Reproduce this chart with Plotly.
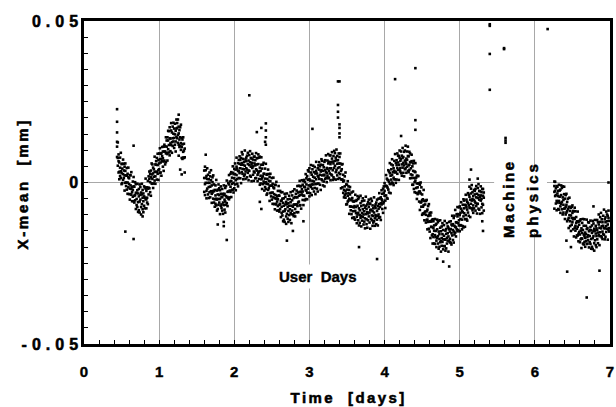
import plotly.graph_objects as go

# X-mean, in micrometres (1e-3 mm), grouped by time [days]
seg1_cols = [
    (0.44, [11.1, 12.6, 7.9, 22.7, 18.8, 15.5]), (0.45, [5.2, 7.6, 12.4]), (0.46, [6.6, 3.1, 8.7]),
    (0.47, [3.3, 6.2, 1.0]), (0.48, [7.7, 2.0, 4.6]), (0.49, [3.5, 9.2, 1.4]), (0.50, [5.7, 2.9, -0.5]),
    (0.51, [-0.2, 5.8, 4.3]), (0.52, [7.1, 2.6, 0.8]), (0.53, [1.4, 3.7, 5.8]), (0.54, [4.9, -2.5, 2.2]),
    (0.55, [-0.1, 3.6, 5.9, -15.2]), (0.56, [2.2, -1.1, 0.0]), (0.57, [4.5, 2.1, -2.2]), (0.58, [-3.5, 0.0, 2.7]),
    (0.59, [1.6, 4.6, -1.5]), (0.60, [-0.5, -3.6, 1.3]), (0.61, [2.3, -1.9, -5.3]), (0.62, [-3.6, 2.2, -0.9]),
    (0.63, [3.2, -3.8, -2.0]), (0.64, [-3.0, -1.4, -5.8]), (0.65, [-2.3, 0.3, -4.4]),
    (0.66, [-5.8, 1.7, -1.2, 11.4, -17.5]), (0.67, [-1.3, -4.1, -6.2]), (0.68, [-5.5, 0.1, -3.9]),
    (0.69, [-0.5, -8.2, -3.2]), (0.70, [-5.1, -3.2, -7.0]), (0.71, [-2.4, -7.6, -0.4]), (0.72, [-9.1, -6.1, -3.4]),
    (0.73, [-2.0, -8.6, -4.3]), (0.74, [-5.9, -0.6, -9.3]), (0.75, [-3.8, -5.3, -1.4]), (0.76, [-7.6, -3.1, -9.9]),
    (0.77, [-0.4, -6.7, -3.7]), (0.78, [-8.3, -4.7, -2.3, -10.5]), (0.79, [-3.4, -9.2, -5.8]),
    (0.80, [-1.2, -7.2, -4.3]), (0.81, [-4.7, -1.5, -8.0]), (0.82, [1.2, -5.2, -1.9]), (0.83, [-8.0, -2.6, -5.2]),
    (0.84, [-4.7, -6.2, -1.5]), (0.85, [0.5, -1.9, -6.7]), (0.86, [-1.6, 1.9, -3.7]), (0.87, [1.1, -1.8, 3.4]),
    (0.88, [-3.0, 2.7, 0.1]), (0.89, [1.6, -4.1, 3.7]), (0.90, [-0.3, 2.5, 5.9]), (0.91, [5.6, -0.4, 1.1]),
    (0.92, [-1.7, 2.8, 4.6]), (0.93, [4.1, 1.8, -0.3]), (0.94, [0.6, 8.0, 3.3]), (0.95, [5.6, 1.9, -0.4]),
    (0.96, [3.3, 6.6, 5.5]), (0.97, [0.9, 3.3, 7.6]), (0.98, [8.9, 5.4, 2.7]), (0.99, [3.8, 0.8, 6.9]),
    (1.00, [5.9, 9.0, 4.1]), (1.01, [3.0, 7.2, 10.6]), (1.02, [8.9, 3.1, 6.2]), (1.03, [2.1, 9.1, 7.3]),
    (1.04, [8.2, 6.6, 11.0]), (1.05, [7.5, 4.9, 9.6]), (1.06, [11.1, 3.6, 6.5]), (1.07, [6.8, 9.6, 11.7]),
    (1.08, [11.2, 5.6, 9.6]), (1.09, [6.3, 14.0, 9.0]), (1.10, [11.1, 9.2, 13.0]), (1.11, [8.8, 14.0, 6.8]),
    (1.12, [16.0, 13.0, 10.3]), (1.13, [9.3, 15.9, 11.6]), (1.14, [13.7, 8.4, 17.1]), (1.15, [12.1, 13.6, 9.7]),
    (1.16, [16.1, 11.6, 18.4]), (1.17, [9.2, 15.5, 12.5]), (1.18, [17.3, 13.7, 11.3]), (1.19, [12.7, 18.5, 15.1]),
    (1.20, [10.7, 16.7, 13.8]), (1.21, [14.9, 11.7, 18.2]), (1.22, [9.6, 16.0, 12.7]), (1.23, [19.5, 14.1, 16.7]),
    (1.24, [16.9, 18.4, 13.7]), (1.25, [12.3, 14.7, 19.5]), (1.26, [15.2, 11.7, 17.3, 21.0, 8.3]),
    (1.27, [13.3, 16.2, 11.0]), (1.28, [17.1, 11.4, 14.0, 4.0]), (1.29, [12.2, 17.9, 10.1]),
    (1.30, [13.8, 11.0, 7.6, 2.5]), (1.31, [7.3, 13.3, 11.8]), (1.32, [14.0, 9.5, 7.7]), (1.33, [7.6, 9.9, 12.0]),
    (1.34, [10.5, 3.1, 7.8]),
]

seg2_cols = [
    (1.60, [3.7, -2.9, 1.4]), (1.61, [-0.5, 4.9, -3.9]), (1.62, [1.4, -0.1, 3.8, 8.6]), (1.63, [-2.6, 2.0, -4.9]),
    (1.64, [4.4, -1.9, 1.1]), (1.65, [-3.7, -0.1, 2.4]), (1.66, [1.0, -4.8, -1.4]), (1.67, [3.1, -3.0, -0.1]),
    (1.68, [-1.3, 1.9, -4.6]), (1.69, [3.8, -2.7, 0.7]), (1.70, [-6.3, -0.9, -3.5]), (1.71, [0.1, 1.6, -3.1]),
    (1.72, [-5.0, -2.6, 2.2]), (1.73, [-2.7, -6.2, -0.6]), (1.74, [-5.2, -2.3, -7.5]), (1.75, [-0.9, -6.6, -4.0]),
    (1.76, [-5.0, 0.8, -7.1]), (1.77, [-2.5, -5.3, -8.7]), (1.78, [-8.2, -2.2, -3.7, -13.0]), (1.79, [-0.6, -5.1, -6.9]),
    (1.80, [-6.2, -3.9, -1.8]), (1.81, [-2.4, -9.8, -5.1]), (1.82, [-7.2, -3.5, -1.2]), (1.83, [-4.6, -7.9, -6.8]),
    (1.84, [-2.0, -4.4, -8.7]), (1.85, [-9.7, -6.2, -3.5]), (1.86, [-3.9, -0.9, -7.0, -12.2, -13.5]),
    (1.87, [-5.3, -8.4, -3.5]), (1.88, [-1.7, -5.9, -9.3]), (1.89, [-6.9, -1.1, -4.2]), (1.90, [0.6, -6.4, -4.6, -17.8]),
    (1.91, [-4.5, -2.9, -7.3]), (1.92, [-2.8, -0.2, -4.9]), (1.93, [-5.2, 2.3, -0.6]), (1.94, [0.3, -2.5, -4.6]),
    (1.95, [-2.9, 2.7, -1.3]), (1.96, [3.2, -4.5, 0.5]), (1.97, [-0.4, 1.5, -2.3]), (1.98, [3.0, -2.2, 5.0]),
    (1.99, [-3.1, -0.1, 2.6]), (2.00, [-1.8, 4.2, 1.3]), (2.01, [2.6, -0.6, 5.9]), (2.02, [-2.4, 4.0, 0.7]),
    (2.03, [7.7, 2.3, 4.9]), (2.04, [1.1, -0.4, 4.3]), (2.05, [6.0, 3.6, -1.2]), (2.06, [3.5, 7.0, 1.4]),
    (2.07, [5.8, 2.9, 8.1]), (2.08, [1.3, 7.0, 4.4]), (2.09, [5.5, -0.2, 7.6]), (2.10, [3.2, 6.0, 9.4]),
    (2.11, [8.7, 2.7, 4.2]), (2.12, [1.0, 5.5, 7.3]), (2.13, [6.4, 4.1, 2.0]), (2.14, [2.5, 9.9, 5.2]),
    (2.15, [7.1, 3.4, 1.1]), (2.16, [4.4, 7.7, 6.6]), (2.17, [1.6, 4.0, 8.3]), (2.18, [9.2, 5.7, 3.0]),
    (2.19, [3.7, 0.7, 6.8]), (2.20, [5.4, 8.5, 3.6, 27.0]), (2.21, [2.1, 6.3, 9.7]), (2.22, [7.6, 1.8, 4.9]),
    (2.23, [0.4, 7.4, 5.6]), (2.24, [6.1, 4.5, 8.9]), (2.25, [5.0, 2.4, 7.1]), (2.26, [8.0, 0.5, 3.4]),
    (2.27, [3.1, 5.9, 8.0]), (2.28, [6.9, 1.3, 5.3]), (2.29, [1.4, 9.1, 4.1]), (2.30, [5.6, 3.7, 7.5, 15.6]),
    (2.31, [2.4, 7.6, 0.4]), (2.32, [8.7, 5.7, 3.0]), (2.33, [1.1, 7.7, 3.4]), (2.34, [4.6, -0.7, 8.0, -6.0]),
    (2.35, [2.1, 3.6, -0.3]), (2.36, [5.5, 1.0, 7.8, 16.9, -8.2]), (2.37, [-2.0, 4.3, 1.3]), (2.38, [5.5, 1.9, -0.5]),
    (2.39, [0.3, 6.1, 2.7]), (2.40, [-0.2, 2.7, -2.5]), (2.41, [4.3, -1.4, 1.2, 12.6]),
    (2.42, [0.1, 5.8, -2.0, 18.3, 16.1, 14.0, 11.7]), (2.43, [2.4, -0.4, -3.8]), (2.44, [-3.4, 2.6, 1.1]),
    (2.45, [4.0, -0.5, -2.3]), (2.46, [-1.8, 0.5, 2.6]), (2.47, [1.7, -5.7, -1.0]), (2.48, [-3.3, 0.4, 2.7]),
    (2.49, [-1.0, -4.3, -3.2]), (2.50, [1.4, -1.0, -5.3]), (2.51, [-6.6, -3.1, -0.4]), (2.52, [-1.5, 1.5, -4.6]),
    (2.53, [-3.6, -6.7, -1.8]), (2.54, [-0.7, -4.9, -8.3]), (2.55, [-6.6, -0.8, -3.9]), (2.56, [0.2, -6.8, -5.0]),
    (2.57, [-5.9, -4.3, -8.7]), (2.58, [-5.2, -2.6, -7.3]), (2.59, [-8.6, -1.1, -4.0]), (2.60, [-4.1, -6.9, -9.0]),
    (2.61, [-8.2, -2.6, -6.6]), (2.62, [-3.0, -10.7, -5.7]), (2.63, [-7.5, -5.6, -9.4]), (2.64, [-5.0, -10.2, -3.0]),
    (2.65, [-12.0, -9.0, -6.3]), (2.66, [-4.9, -11.5, -7.2]), (2.67, [-8.8, -3.5, -12.2]), (2.68, [-6.8, -8.3, -4.4]),
    (2.69, [-10.5, -6.0, -12.8]), (2.70, [-3.4, -9.7, -6.7, -18.0]), (2.71, [-11.2, -7.6, -5.2]),
    (2.72, [-6.4, -12.2, -8.8]), (2.73, [-4.1, -10.1, -7.2]), (2.74, [-8.3, -5.1, -11.6]), (2.75, [-3.0, -9.4, -6.1]),
    (2.76, [-12.6, -7.2, -9.8]), (2.77, [-5.5, -4.0, -8.7]), (2.78, [-9.9, -7.5, -2.7, -15.0]),
    (2.79, [-6.9, -10.4, -4.8]), (2.80, [-9.5, -2.1, -6.8]), (2.81, [-4.5, -8.2, -10.5]), (2.82, [-6.8, -3.5, -4.6]),
    (2.83, [-9.2, -6.8, -2.5]), (2.84, [-1.1, -4.6, -7.3]), (2.85, [-6.2, -9.2, -3.1]), (2.86, [-4.1, -1.0, -5.9]),
    (2.87, [-7.1, -2.9, 0.5]), (2.88, [-1.2, -7.0, -3.9]), (2.89, [-8.1, -1.1, -2.9]), (2.90, [-2.1, -3.7, 0.7]),
    (2.91, [-2.8, -5.4, -0.7]), (2.92, [0.5, -7.0, -4.1, -12.0]), (2.93, [-4.1, -1.3, 0.8]), (2.94, [0.1, -5.5, -1.5]),
    (2.95, [-5.1, 2.6, -2.4]), (2.96, [-0.6, -2.5, 1.3]), (2.97, [-3.2, 2.0, -5.2]), (2.98, [3.8, 0.8, -1.9]),
    (2.99, [-3.2, 3.4, -0.9]), (3.00, [1.0, -4.3, 4.4]), (3.01, [-0.9, 0.6, -3.3]), (3.02, [3.1, -1.4, 5.4]),
    (3.03, [-3.9, 2.4, -0.6]), (3.04, [4.1, 0.5, -1.9, 16.6]), (3.05, [-0.6, 5.2, 1.8]), (3.06, [-2.8, 3.2, 0.3]),
    (3.07, [1.5, -1.7, 4.8]), (3.08, [-3.6, 2.8, -0.5]), (3.09, [6.4, 1.0, 3.6]), (3.10, [-0.4, -1.9, 2.8]),
    (3.11, [4.4, 2.0, -2.8]), (3.12, [1.8, 5.3, -0.3]), (3.13, [4.0, 1.1, 6.3]), (3.14, [-0.7, 5.0, 2.4]),
    (3.15, [3.4, -2.3, 5.5]), (3.16, [1.0, 3.8, 7.2]), (3.17, [6.7, 0.7, 2.2]), (3.18, [-0.9, 3.6, 5.4]),
    (3.19, [4.7, 2.4, 0.3]), (3.20, [6.4, 2.2, -1.2]), (3.21, [1.1, 6.9, 3.8]), (3.22, [8.4, 1.4, 3.2]),
    (3.23, [2.9, 4.5, 0.1]), (3.24, [4.2, 6.8, 2.1]), (3.25, [1.3, 8.8, 5.9]), (3.26, [6.4, 3.6, 1.5]),
    (3.27, [2.8, 8.4, 4.4]), (3.28, [8.4, 0.7, 5.7]), (3.29, [4.4, 6.3, 2.5]), (3.30, [7.4, 2.2, 9.4]),
    (3.31, [0.8, 3.8, 6.5]), (3.32, [8.2, 1.6, 5.9]), (3.33, [4.5, 9.8, 1.1]), (3.34, [6.7, 5.2, 9.1]),
    (3.35, [3.2, 7.7, 0.9]), (3.36, [10.2, 3.9, 6.9]), (3.37, [2.2, 5.8, 8.2]),
    (3.38, [6.9, 1.1, 4.5, 31.3, 24.0, 21.9, 20.1]), (3.39, [9.0, 3.0, 5.9]),
    (3.40, [4.7, 7.9, 1.4, 31.3, 18.0, 16.9, 15.2, 14.0]), (3.41, [9.0, 2.6, 5.9]), (3.42, [-1.8, 3.6, 1.0]),
    (3.43, [4.1, 5.6, 0.9]), (3.44, [-1.5, 0.9, 5.7]), (3.45, [0.3, -3.2, 2.4]), (3.46, [-2.3, 0.6, -4.6]),
    (3.47, [1.9, -3.8, -1.2]), (3.48, [-2.6, 3.1, -4.7]), (3.49, [-0.6, -3.4, -6.8]), (3.50, [-6.7, -0.7, -2.2]),
    (3.51, [0.4, -4.1, -5.9]), (3.52, [-5.6, -3.3, -1.2]), (3.53, [-2.3, -9.7, -5.0]), (3.54, [-7.4, -3.7, -1.4]),
    (3.55, [-5.3, -8.6, -7.5]), (3.56, [-3.1, -5.5, -9.8]), (3.57, [-11.0, -7.5, -4.8]), (3.58, [-5.8, -2.8, -8.9]),
    (3.59, [-7.7, -10.8, -5.9]), (3.60, [-5.7, -11.3, -7.3]), (3.61, [-11.5, -3.8, -8.8]), (3.62, [-7.6, -9.5, -5.7]),
    (3.63, [-10.6, -5.4, -12.6]), (3.64, [-4.2, -7.2, -9.9]), (3.65, [-11.7, -5.1, -9.4]),
    (3.66, [-8.0, -13.3, -4.6, -20.0]), (3.67, [-10.1, -8.6, -12.5]), (3.68, [-6.4, -10.9, -4.1]),
    (3.69, [-13.6, -7.3, -10.3]), (3.70, [-5.8, -9.4, -11.8]), (3.71, [-10.7, -4.9, -8.3]), (3.72, [-13.0, -7.0, -9.9]),
    (3.73, [-8.9, -12.1, -5.6]), (3.74, [-14.2, -7.8, -11.1]), (3.75, [-4.4, -9.8, -7.2]), (3.76, [-11.4, -12.9, -8.2]),
    (3.77, [-6.8, -9.2, -14.0]), (3.78, [-9.6, -6.1, -11.7]), (3.79, [-7.6, -10.5, -5.3]), (3.80, [-12.4, -6.7, -9.3]),
    (3.81, [-8.6, -14.3, -6.5]), (3.82, [-11.2, -8.4, -5.0]), (3.83, [-5.7, -11.7, -10.2]), (3.84, [-13.4, -8.9, -7.1]),
    (3.85, [-8.0, -10.3, -12.4]), (3.86, [-12.0, -4.6, -9.3]), (3.87, [-7.4, -11.1, -13.4]), (3.88, [-10.1, -6.8, -7.9]),
    (3.89, [-12.9, -10.5, -6.2]), (3.90, [-5.3, -8.8, -11.5, -23.7]), (3.91, [-10.3, -13.3, -7.2]),
    (3.92, [-8.1, -5.0, -9.9]), (3.93, [-10.9, -6.7, -3.3]), (3.94, [-4.9, -10.7, -7.6]), (3.95, [-11.6, -4.6, -6.4]),
    (3.96, [-5.2, -6.8, -2.4]), (3.97, [-5.6, -8.2, -3.5]), (3.98, [-1.9, -9.4, -6.5]), (3.99, [-6.1, -3.3, -1.2]),
    (4.00, [-2.6, -4.1, -0.2]), (4.01, [-5.6, -1.1, -7.9]), (4.02, [2.3, -4.0, -1.0]), (4.03, [-4.8, -1.2, 1.2]),
    (4.04, [0.8, -5.0, -1.6]), (4.05, [3.8, -2.2, 0.7]), (4.06, [0.2, 3.4, -3.1]), (4.07, [6.0, -0.4, 2.9]),
    (4.08, [-3.3, 2.1, -0.5]), (4.09, [4.1, 5.6, 0.9]), (4.10, [0.0, 2.4, 7.2]), (4.11, [3.2, -0.3, 5.3]),
    (4.12, [1.5, 4.4, -0.8]), (4.13, [6.7, 1.0, 3.6]), (4.14, [3.1, 8.8, 1.0, 32.0]), (4.15, [6.1, 3.3, -0.1]),
    (4.16, [0.9, 6.9, 5.4]), (4.17, [9.0, 4.5, 2.7]), (4.18, [3.9, 6.2, 8.3]), (4.19, [8.2, 0.8, 5.5]),
    (4.20, [3.9, 7.6, 9.9]), (4.21, [6.7, 3.4, 4.5]), (4.22, [9.6, 7.2, 2.9, 14.4]), (4.23, [2.1, 5.6, 8.3]),
    (4.24, [7.7, 10.7, 4.6]), (4.25, [6.1, 3.0, 7.9]), (4.26, [9.5, 5.3, 1.9]), (4.27, [4.1, 9.9, 6.8]),
    (4.28, [11.4, 4.4, 6.2]), (4.29, [5.8, 7.4, 3.0]), (4.30, [7.0, 9.6, 4.9]), (4.31, [3.6, 11.1, 8.2]),
    (4.32, [8.1, 5.3, 3.2]), (4.33, [3.9, 9.5, 5.5]), (4.34, [9.0, 1.3, 6.3]), (4.35, [4.4, 6.3, 2.5]),
    (4.36, [6.6, 1.4, 8.6]), (4.37, [-0.7, 2.3, 5.0]), (4.38, [5.9, -0.7, 3.6]), (4.39, [1.4, 6.7, -2.0]),
    (4.40, [-3.0, 3.4, 0.1]), (4.41, [6.0, 0.6, 3.2, 35.4, 19.3, 16.3]), (4.42, [-1.7, -3.2, 1.5]),
    (4.43, [2.1, -0.3, -5.1]), (4.44, [-1.5, 2.0, -3.6]), (4.45, [-0.3, -3.2, 2.0]), (4.46, [-5.9, -0.2, -2.8]),
    (4.47, [-2.8, -8.5, -0.7]), (4.48, [-6.2, -3.4, 0.0]), (4.49, [-1.5, -7.5, -6.0]), (4.50, [-10.0, -5.5, -3.7]),
    (4.51, [-5.2, -7.5, -9.6]), (4.52, [-9.7, -2.3, -7.0]), (4.53, [-5.7, -9.4, -11.7]), (4.54, [-9.0, -5.7, -6.8]),
    (4.55, [-12.4, -10.0, -5.7]), (4.56, [-5.4, -8.9, -11.6]), (4.57, [-11.5, -14.5, -8.4]),
    (4.58, [-10.4, -7.3, -12.2]), (4.59, [-14.3, -10.1, -6.7]), (4.60, [-9.4, -15.2, -12.1]),
    (4.61, [-17.2, -10.2, -12.0]), (4.62, [-12.1, -13.7, -9.3]), (4.63, [-13.8, -16.4, -11.7]),
    (4.64, [-11.4, -18.9, -16.0]), (4.65, [-16.9, -14.1, -12.0]), (4.66, [-13.3, -18.9, -14.9]),
    (4.67, [-19.0, -11.3, -16.3]), (4.68, [-15.0, -16.9, -13.1]), (4.69, [-18.0, -12.8, -20.0]),
    (4.70, [-11.5, -14.5, -17.2, -23.6]), (4.71, [-18.9, -12.3, -16.6]), (4.72, [-15.2, -20.5, -11.8]),
    (4.73, [-17.5, -16.0, -19.9]), (4.74, [-14.0, -18.5, -11.7]), (4.75, [-21.4, -15.1, -18.1]),
    (4.76, [-13.6, -17.2, -19.6]), (4.77, [-18.4, -12.6, -16.0]), (4.78, [-20.7, -14.7, -17.6, -24.5]),
    (4.79, [-16.5, -19.7, -13.2]), (4.80, [-17.6, -11.9, -19.7]), (4.81, [-14.9, -17.7, -21.1]),
    (4.82, [-20.4, -14.4, -15.9]), (4.83, [-12.6, -17.1, -18.9]), (4.84, [-18.0, -15.7, -13.6]),
    (4.85, [-14.0, -21.4, -16.7]), (4.86, [-18.2, -14.5, -12.2, -26.0]), (4.87, [-15.2, -18.5, -17.4]),
    (4.88, [-12.0, -14.4, -18.7]), (4.89, [-19.2, -15.7, -13.0]), (4.90, [-13.3, -10.3, -16.4]),
    (4.91, [-14.7, -17.8, -12.9]), (4.92, [-11.0, -15.2, -18.6]), (4.93, [-16.1, -10.3, -13.4]),
    (4.94, [-8.5, -15.5, -13.7]), (4.95, [-13.9, -12.3, -16.7]), (4.96, [-12.4, -9.8, -14.5]),
    (4.97, [-15.1, -7.6, -10.5]), (4.98, [-9.8, -12.6, -14.7]), (4.99, [-13.3, -7.7, -11.7]),
    (5.00, [-7.4, -15.1, -10.1]), (5.01, [-11.3, -9.4, -13.2]), (5.02, [-8.1, -13.3, -6.1]),
    (5.03, [-14.5, -11.5, -8.8]), (5.04, [-6.9, -13.5, -9.2]), (5.05, [-10.5, -5.2, -13.9]), (5.06, [-8.0, -9.5, -5.6]),
    (5.07, [-11.4, -6.9, -13.7]), (5.08, [-3.8, -10.1, -7.1]), (5.09, [-11.3, -7.7, -5.3]), (5.10, [-6.0, -11.8, -8.4]),
    (5.11, [-3.3, -9.3, -6.4]), (5.12, [-7.0, -3.8, -10.3]), (5.13, [-1.3, -7.7, -4.4, 0.9]),
    (5.14, [-10.7, -5.3, -7.9]), (5.15, [-3.4, -1.9, -6.6, 4.0]), (5.16, [-8.0, -5.6, -0.8]), (5.17, [-5.1, -8.6, -3.0]),
    (5.18, [-7.1, -4.2, -9.4]), (5.19, [-2.3, -8.0, -5.4]), (5.20, [-5.9, -2.6, -3.7]), (5.21, [-8.7, -6.3, -2.0]),
    (5.22, [-1.1, -4.6, -7.3]), (5.23, [-6.6, -9.6, -3.5]), (5.24, [-4.8, -1.7, -6.6, 1.2]), (5.25, [-8.1, -3.9, -0.5]),
    (5.26, [-2.6, -8.4, -5.3]), (5.27, [-9.7, -2.7, -4.5]), (5.28, [-4.0, -5.6, -1.2]), (5.29, [-5.1, -7.7, -3.0]),
    (5.30, [-2.0, -9.5, -6.6, -12.0]), (5.31, [-6.9, -4.1, -2.0, -15.0]), (5.32, [-3.1, -8.7, -4.7]),
]

seg3_cols = [
    (6.26, [-8.1, -1.1, -2.9, 0.3]), (6.27, [-2.6, -4.2, 0.2]), (6.28, [-3.9, -6.5, -1.8]), (6.29, [-1.1, -8.6, -5.7]),
    (6.30, [-6.2, -3.4, -1.3]), (6.31, [-2.6, -8.2, -4.2]), (6.32, [-8.4, -0.7, -5.7]), (6.33, [-4.4, -6.3, -2.5]),
    (6.34, [-7.4, -2.2, -9.4]), (6.35, [-0.9, -3.9, -6.6]), (6.36, [-8.3, -1.7, -6.0]), (6.37, [-4.6, -9.9, -1.2]),
    (6.38, [-6.9, -5.4, -9.3]), (6.39, [-3.6, -8.1, -1.3]), (6.40, [-11.3, -5.0, -8.0]), (6.41, [-3.9, -7.5, -9.9]),
    (6.42, [-9.3, -3.5, -6.9, -18.0]), (6.43, [-12.0, -6.0, -8.9, -27.6]), (6.44, [-8.3, -11.5, -5.0]),
    (6.45, [-14.1, -7.7, -11.0]), (6.46, [-4.7, -10.1, -7.5]), (6.47, [-12.0, -13.5, -8.8]),
    (6.48, [-7.8, -10.2, -15.0, -20.0]), (6.49, [-11.0, -7.5, -13.1]), (6.50, [-9.4, -12.3, -7.1]),
    (6.51, [-14.5, -8.8, -11.4]), (6.52, [-11.0, -16.7, -8.9]), (6.53, [-14.0, -11.2, -7.8]),
    (6.54, [-8.9, -14.9, -13.4]), (6.55, [-17.0, -12.5, -10.7]), (6.56, [-12.0, -14.3, -16.4]),
    (6.57, [-16.4, -9.0, -13.7]), (6.58, [-12.2, -15.9, -18.2]), (6.59, [-15.3, -12.0, -13.1]),
    (6.60, [-18.5, -16.1, -11.8]), (6.61, [-11.4, -14.9, -17.6]), (6.62, [-17.3, -20.3, -14.2]),
    (6.63, [-15.6, -12.5, -17.4]), (6.64, [-18.9, -14.7, -11.3]), (6.65, [-13.4, -19.2, -16.1]),
    (6.66, [-11.4, -18.4, -16.6]), (6.67, [-17.1, -15.5, -19.9]), (6.68, [-16.0, -13.4, -18.1]),
    (6.69, [-19.0, -11.5, -14.4, -35.6]), (6.70, [-14.1, -16.9, -19.0]), (6.71, [-17.9, -12.3, -16.3]),
    (6.72, [-12.4, -20.1, -15.1]), (6.73, [-16.6, -14.7, -18.5]), (6.74, [-13.8, -19.0, -11.8]),
    (6.75, [-20.5, -17.5, -14.8]), (6.76, [-13.3, -19.9, -15.6]), (6.77, [-17.2, -11.9, -20.6]),
    (6.78, [-15.1, -16.6, -12.7, -7.4]), (6.79, [-18.8, -14.3, -21.1]), (6.80, [-11.6, -17.9, -14.9]),
    (6.81, [-19.4, -15.8, -13.4]), (6.82, [-14.2, -20.0, -16.6]), (6.83, [-11.6, -17.6, -14.7]),
    (6.84, [-15.5, -12.3, -18.8]), (6.85, [-9.9, -16.3, -13.0]), (6.86, [-19.4, -14.0, -16.6, -27.3]),
    (6.87, [-12.2, -10.7, -15.4]), (6.88, [-16.6, -14.2, -9.4]), (6.89, [-13.5, -17.0, -11.4]),
    (6.90, [-15.2, -12.3, -17.5]), (6.91, [-10.3, -16.0, -13.4]), (6.92, [-14.1, -8.4, -16.2]),
    (6.93, [-11.4, -14.2, -17.6]), (6.94, [-16.8, -10.8, -12.3]), (6.95, [-9.0, -13.5, -15.3]),
    (6.96, [-14.3, -12.0, -9.9]), (6.97, [-10.3, -17.7, -13.0]), (6.98, [-14.7, -11.0, -8.7, 0.0]),
    (6.99, [-11.9, -15.2, -14.1]),
]

# isolated points during the machine-physics period
mp_t = [5.40, 5.40, 5.40, 5.40, 5.59, 5.59, 5.61, 5.61, 5.61, 6.17]
mp_um = [49.0, 48.5, 39.8, 28.7, 41.6, 41.3, 13.8, 13.0, 12.3, 47.5]

x_ticks = [0, 1, 2, 3, 4, 5, 6, 7]
y_ticks = [-0.05, 0, 0.05]
y_tick_text = ["-0.05", "0", "0.05"]

xs, ys = [], []
for cols in (seg1_cols, seg2_cols, seg3_cols):
    for t, vals in cols:
        for v in vals:
            xs.append(t)
            ys.append(v / 1000.0)
for t, v in zip(mp_t, mp_um):
    xs.append(t)
    ys.append(v / 1000.0)

FONT = "Liberation Sans, Arial, sans-serif"

fig = go.Figure()
fig.add_trace(go.Scatter(
    x=xs, y=ys, mode="markers",
    marker=dict(symbol="square", size=2.6, color="black", line=dict(width=0)),
    showlegend=False, hoverinfo="skip",
))

axis_common = dict(
    showline=True, linecolor="black", linewidth=2.5, mirror=True,
    ticks="inside", ticklen=4, tickwidth=1, tickcolor="black",
    showgrid=True, gridcolor="#a8a8a8", gridwidth=1,
    zeroline=False,
)

fig.update_xaxes(
    range=[0, 7], tickvals=x_ticks, ticklabelstandoff=12,
    tickfont=dict(family=FONT, size=15, color="black", weight="bold"),
    minor=dict(dtick=0.2, ticks="inside", ticklen=4, tickcolor="black", showgrid=False),
    **axis_common,
)
fig.update_yaxes(
    range=[-0.05, 0.05], tickvals=y_ticks, ticktext=y_tick_text,
    tickfont=dict(family=FONT, size=16, color="black", weight="bold"),
    minor=dict(dtick=0.005, ticks="inside", ticklen=4, tickcolor="black", showgrid=False),
    **axis_common,
)

ann_font = dict(family=FONT, size=15, color="black", weight="bold")
fig.update_layout(
    width=616, height=407,
    margin=dict(l=84, r=3, t=21, b=63),
    paper_bgcolor="white", plot_bgcolor="white",
    font=dict(family=FONT, color="black"),
    annotations=[
        dict(text="Time\u00a0\u00a0[days]", xref="paper", yref="paper", x=0.5028, y=-0.167,
             showarrow=False, font=ann_font, xanchor="center", yanchor="middle"),
        dict(text="X-mean\u00a0\u00a0[mm]", xref="paper", yref="paper", x=-0.1153, y=0.4954,
             showarrow=False, font=ann_font, textangle=-90, xanchor="center", yanchor="middle"),
        dict(text="User\u00a0\u00a0Days", xref="x", yref="y", x=3.12, y=-0.0291,
             showarrow=False, font=ann_font, bgcolor="white", borderpad=3),
        dict(text="Machine", xref="x", yref="y", x=(511 - 84) / 75.57, y=-0.0051,
             showarrow=False, font=ann_font, textangle=-90, bgcolor="white", borderpad=5),
        dict(text="physics", xref="x", yref="y", x=(536 - 84) / 75.57, y=-0.0051,
             showarrow=False, font=ann_font, textangle=-90, bgcolor="white", borderpad=5),
    ],
)

# letter spacing of the original typesetting (pure text styling); a thin stroke gives
# the heavy black look of the original lettering
post = """
var gd = document.getElementById('{plot_id}');
function heavy(e, ls, sw) {
  if (ls) { e.style.letterSpacing = ls + 'px'; }
  e.style.stroke = 'black';
  e.style.strokeWidth = sw + 'px';
}
gd.querySelectorAll('g.ytick text').forEach(function(e){
  heavy(e, 5, 0.55);
  var x = parseFloat(e.getAttribute('x') || '0');
  e.setAttribute('x', x + 5);
});
gd.querySelectorAll('g.xtick text').forEach(function(e){ heavy(e, 0, 0.4); });
var sp = [2.4, 2.7, 0, 2.7, 3.0];
gd.querySelectorAll('g.annotation text.annotation-text').forEach(function(e, i){
  heavy(e, sp[i], sp[i] ? 0.55 : 0.4);
});
"""

fig.write_html("out.html", post_script=post)
